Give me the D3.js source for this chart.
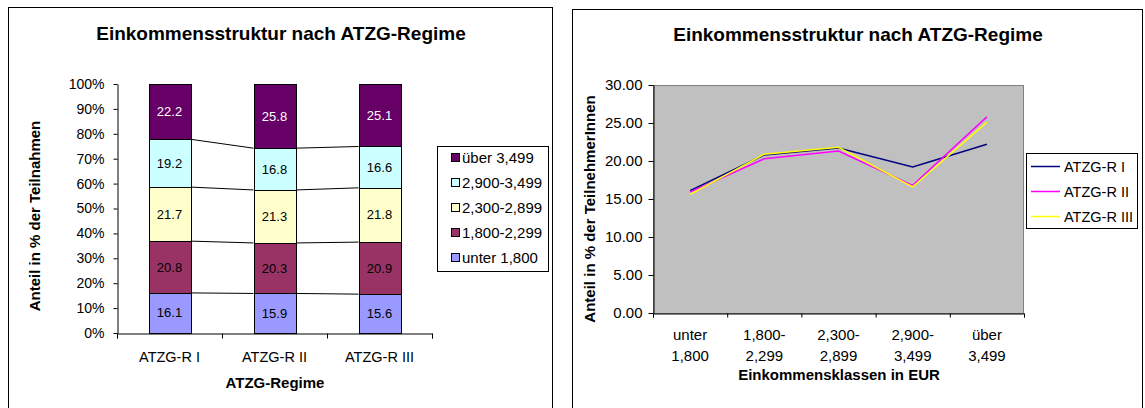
<!DOCTYPE html>
<html><head><meta charset="utf-8">
<script src="https://cdn.jsdelivr.net/npm/d3@7"></script>
<style>
body{margin:0;background:#fff}
svg{display:block}
text{font-family:Arial,"Liberation Sans",sans-serif;fill:#000}
</style></head>
<body><svg id="c" width="1145" height="408"></svg>
<script>
// ---- data ----
const chartTitle = "Einkommensstruktur nach ATZG-Regime";
const regimes = ["ATZG-R I", "ATZG-R II", "ATZG-R III"];
const incomeClasses = ["unter 1,800", "1,800-2,299", "2,300-2,899", "2,900-3,499", "über 3,499"];
const incomeClassLines = [["unter", "1,800"], ["1,800-", "2,299"], ["2,300-", "2,899"], ["2,900-", "3,499"], ["über", "3,499"]];
const seriesR1 = [16.1, 20.8, 21.7, 19.2, 22.2];
const seriesR2 = [15.9, 20.3, 21.3, 16.8, 25.8];
const seriesR3 = [15.6, 20.9, 21.8, 16.6, 25.1];
const pctTicks = [0, 10, 20, 30, 40, 50, 60, 70, 80, 90, 100];
const valueTicks = [0, 5, 10, 15, 20, 25, 30];
const classColors = ["#9999FF", "#993366", "#FFFFCC", "#CCFFFF", "#660066"];
const lineColors = ["#000080", "#FF00FF", "#FFFF00"];

const allSeries = [seriesR1, seriesR2, seriesR3];
const svg = d3.select("#c");

// frames
svg.append("rect").attr("x", 8.5).attr("y", 7.5).attr("width", 544).attr("height", 420)
  .attr("fill", "none").attr("stroke", "#000");
svg.append("rect").attr("x", 572.5).attr("y", 9.5).attr("width", 570).attr("height", 420)
  .attr("fill", "none").attr("stroke", "#000");

// ================= LEFT: 100% stacked bars =================
const L = svg.append("g");
L.append("text").attr("x", 281).attr("y", 40).attr("text-anchor", "middle")
  .style("font-weight", "bold").style("font-size", "19px").text(chartTitle);

const xb = d3.scaleBand().domain(regimes).range([117, 432]).paddingInner(0.6).paddingOuter(0.3);
const yb = d3.scaleLinear().domain([0, 1]).range([333, 84]);
const yPct = d3.scaleLinear().domain([0, 100]).range([333, 84]);

const rows = regimes.map((r, i) => {
  const o = {regime: r};
  incomeClasses.forEach((c, j) => o[c] = allSeries[i][j]);
  return o;
});
const stacked = d3.stack().keys(incomeClasses).offset(d3.stackOffsetExpand)(rows);

// series lines
stacked.slice(0, -1).forEach(layer => {
  for (let i = 0; i < layer.length - 1; i++) {
    L.append("line")
      .attr("x1", xb(regimes[i]) + xb.bandwidth()).attr("y1", yb(layer[i][1]))
      .attr("x2", xb(regimes[i + 1])).attr("y2", yb(layer[i + 1][1]))
      .attr("stroke", "#000").attr("stroke-width", 1);
  }
});

stacked.forEach((layer, k) => {
  L.append("g").selectAll("rect").data(layer).join("rect")
    .attr("x", d => Math.round(xb(d.data.regime)) + 0.5)
    .attr("y", d => Math.round(yb(d[1])) + 0.5)
    .attr("width", Math.round(xb.bandwidth()))
    .attr("height", d => Math.round(yb(d[0])) - Math.round(yb(d[1])))
    .attr("fill", classColors[k]).attr("stroke", "#000").attr("stroke-width", 1);
  L.append("g").selectAll("text").data(layer).join("text")
    .attr("x", d => xb(d.data.regime) + xb.bandwidth() / 2)
    .attr("y", d => yb((d[0] + d[1]) / 2) + 4.5)
    .attr("text-anchor", "middle").style("font-size", "13px")
    .style("fill", k === 4 ? "#fff" : "#000")
    .text(d => d.data[layer.key].toFixed(1));
});

// y axis
L.append("g").attr("class", "yax").attr("transform", "translate(117.5,0)")
  .call(d3.axisLeft(yPct).tickValues(pctTicks).tickFormat(d => d + "%").tickSize(4).tickSizeOuter(0).tickPadding(9));
// x axis boundary ticks
const xBound = d3.scaleLinear().domain([0, regimes.length]).range([117, 432]);
L.append("g").attr("transform", "translate(0,333.5)")
  .call(d3.axisBottom(xBound).ticks(regimes.length).tickFormat("").tickSize(5).tickSizeOuter(5));
// x axis category labels
L.append("g").attr("class", "xcat").attr("transform", "translate(0,333.5)")
  .call(d3.axisBottom(xb).tickSize(0).tickPadding(18))
  .call(g => g.select(".domain").remove());

L.selectAll(".yax .tick text").style("font-size", "14px").attr("font-family", null);
L.selectAll(".xcat .tick text").style("font-size", "14.5px").attr("font-family", null);
L.selectAll(".domain, .tick line").attr("stroke", "#000");

L.append("text").attr("transform", "translate(40,216) rotate(-90)").attr("text-anchor", "middle")
  .style("font-weight", "bold").style("font-size", "15px").text("Anteil in % der Teilnahmen");
L.append("text").attr("x", 275).attr("y", 388).attr("text-anchor", "middle")
  .style("font-weight", "bold").style("font-size", "15px").text("ATZG-Regime");

// legend
const lg = L.append("g");
lg.append("rect").attr("x", 437.5).attr("y", 146.5).attr("width", 111).attr("height", 125)
  .attr("fill", "#fff").attr("stroke", "#000");
const legendOrder = incomeClasses.map((c, k) => ({c, k})).reverse();
legendOrder.forEach((d, i) => {
  const cy = 158 + i * 25;
  lg.append("rect").attr("x", 451.5).attr("y", cy - 4.5).attr("width", 8).attr("height", 8)
    .attr("fill", classColors[d.k]).attr("stroke", "#000");
  lg.append("text").attr("x", 462).attr("y", cy + 5).style("font-size", "15px").text(d.c);
});

// ================= RIGHT: lines =================
const R = svg.append("g");
R.append("text").attr("x", 858).attr("y", 41).attr("text-anchor", "middle")
  .style("font-weight", "bold").style("font-size", "19px").text(chartTitle);

const xl = d3.scaleBand().domain(incomeClasses).range([653, 1024]);
const yl = d3.scaleLinear().domain([0, 30]).range([313, 85]);

R.append("rect").attr("x", 653.5).attr("y", 85.5).attr("width", 370).attr("height", 228)
  .attr("fill", "#C0C0C0").attr("stroke", "#808080");

const line = d3.line().x((d, j) => xl(incomeClasses[j]) + xl.bandwidth() / 2).y(d => yl(d));
allSeries.forEach((s, i) => {
  R.append("path").attr("d", line(s)).attr("fill", "none")
    .attr("stroke", lineColors[i]).attr("stroke-width", 1.5);
});

R.append("g").attr("transform", "translate(653.5,0)")
  .call(d3.axisLeft(yl).tickValues(valueTicks).tickFormat(d3.format(".2f")).tickSize(5).tickSizeOuter(0).tickPadding(6));
const xBoundR = d3.scaleLinear().domain([0, incomeClasses.length]).range([653, 1024]);
R.append("g").attr("transform", "translate(0,313.5)")
  .call(d3.axisBottom(xBoundR).ticks(incomeClasses.length).tickFormat("").tickSize(4).tickSizeOuter(4));
const xLab = R.append("g").attr("transform", "translate(0,313.5)")
  .call(d3.axisBottom(xl).tickSize(0).tickFormat(""))
  .call(g => g.select(".domain").remove());
xLab.selectAll(".tick").each(function (c, j) {
  const t = d3.select(this).append("text").attr("text-anchor", "middle");
  incomeClassLines[j].forEach((ln, n) => t.append("tspan").attr("x", 0).attr("y", 26 + n * 21).text(ln));
});
R.selectAll(".tick text").style("font-size", "15px").attr("font-family", null).style("fill", "#000");
R.selectAll(".domain, .tick line").attr("stroke", "#000");

R.append("text").attr("transform", "translate(595,209) rotate(-90)").attr("text-anchor", "middle")
  .style("font-weight", "bold").style("font-size", "15px").text("Anteil in % der TeilnehmerInnen");
R.append("text").attr("x", 839).attr("y", 380).attr("text-anchor", "middle")
  .style("font-weight", "bold").style("font-size", "15px").text("Einkommensklassen in EUR");

const lr = R.append("g");
lr.append("rect").attr("x", 1026.5).attr("y", 153.5).attr("width", 111).attr("height", 75)
  .attr("fill", "#fff").attr("stroke", "#000");
regimes.forEach((r, i) => {
  const cy = 166 + i * 25;
  lr.append("line").attr("x1", 1031).attr("x2", 1060).attr("y1", cy + 0.5).attr("y2", cy + 0.5)
    .attr("stroke", lineColors[i]).attr("stroke-width", 1.5);
  lr.append("text").attr("x", 1064).attr("y", cy + 5.5).style("font-size", "14.5px").text(r);
});
</script></body></html>
